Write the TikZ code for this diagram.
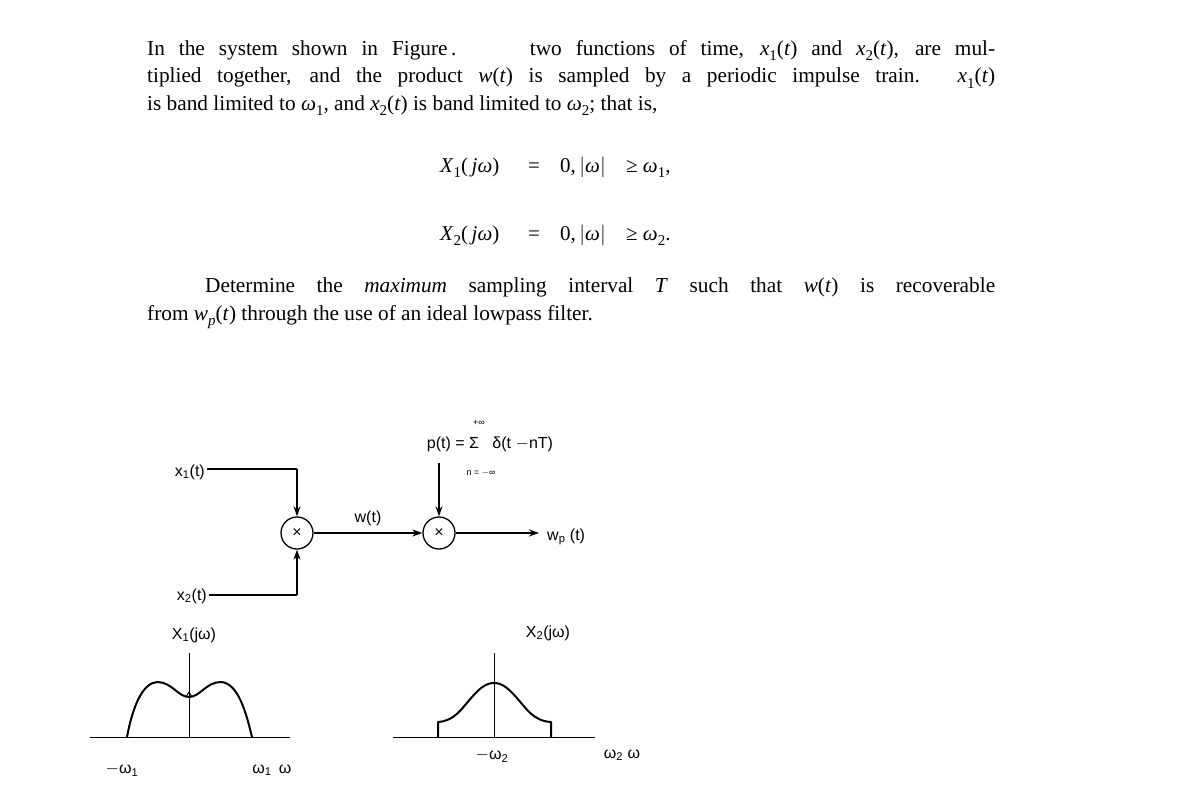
\documentclass[tikz,border=0pt]{standalone}
\usepackage{fontspec}
\setmainfont{Liberation Serif}
\newfontfamily\hel{Liberation Sans}
\usetikzlibrary{arrows.meta}
\newcommand{\iv}[1]{\textit{#1}}
\newcommand{\sbs}[1]{\raisebox{-0.25em}{\fontsize{15}{15}\selectfont #1}}
\begin{document}
\begin{tikzpicture}[x=1pt,y=-1pt,
  lbl/.style={font=\hel\fontsize{16}{18}\selectfont,inner sep=0},
  mult/.style={draw,circle,line width=1.3pt,minimum size=32pt,inner sep=0,font=\hel\fontsize{16}{16}\selectfont},
  wire/.style={line width=1.3pt},
  arr/.style={wire,-{Stealth[length=10pt,width=7pt]}},
  curve/.style={line width=2pt,line join=round},
  ax/.style={line width=0.6pt},
  eq/.style={font=\fontsize{21}{24}\selectfont,inner sep=0,anchor=base west},
  body/.style={anchor=north west,text width=848pt,align=justify,inner sep=0,font=\fontsize{21.3}{27.5}\selectfont}]
\useasboundingbox (0,0) rectangle (1184,800);
\node[body] (para) at (147,40)
{In the system shown in Figure\,.\hspace{1.9em} two functions of time, \iv{x}\sbs{1}(\iv{t}) and \iv{x}\sbs{2}(\iv{t}), are mul-\linebreak
tiplied together, and the product \iv{w}(\iv{t}) is sampled by a periodic impulse train. \iv{x}\sbs{1}(\iv{t})\linebreak
is band limited to \iv{ω}\sbs{1}, and \iv{x}\sbs{2}(\iv{t}) is band limited to \iv{ω}\sbs{2}; that is,};
\node[eq] (e1a) at (440,172) {\iv{X}\sbs{1}(\,\iv{jω})};
\node[eq] (e1b) at (528,172) {=};
\node[eq] (e1c) at (560,172) {0,\,$|$\iv{ω}$|$};
\node[eq] (e1d) at (626,172) {≥\ \iv{ω}\sbs{1},};
\node[eq] (e2a) at (440,240) {\iv{X}\sbs{2}(\,\iv{jω})};
\node[eq] (e2b) at (528,240) {=};
\node[eq] (e2c) at (560,240) {0,\,$|$\iv{ω}$|$};
\node[eq] (e2d) at (626,240) {≥\ \iv{ω}\sbs{2}.};
\node[body] (para2) at (147,278)
{\hspace*{58pt}Determine the \emph{maximum} sampling interval \iv{T} such that \iv{w}(\iv{t}) is recoverable\linebreak
from \iv{w}\sbs{\iv{p}}(\iv{t}) through the use of an ideal lowpass filter.};
% block diagram
\node[mult] (m1) at (297,533) {×};
\node[mult] (m2) at (439,533) {×};
\node[lbl,anchor=east] (x1) at (205,472) {x\textsubscript{1}(t)};
\node[lbl,anchor=east] (x2) at (207,596) {x\textsubscript{2}(t)};
\draw[wire] (x1.east) ++(2pt,3pt) coordinate (s1) -- (s1 -| m1.center) coordinate (k1);
\draw[arr] (k1) -- (m1.north);
\draw[wire] (x2.east) ++(2pt,1pt) coordinate (s2) -- (s2 -| m1.center) coordinate (k2);
\draw[arr] (k2) -- (m1.south);
\draw[arr] (m1) -- node[lbl,above=7pt] (wt) {w(t)} (m2);
\node[lbl,anchor=west] (wp) at (547,537) {w\textsubscript{p} (t)};
\coordinate (wpend) at (539,533);
\draw[arr] (m2) -- (wpend);
\node[lbl] (pt) at (490,444) {p(t) = Σ \ \ δ(t $-$nT)};
\node[lbl,font=\hel\fontsize{9}{9}\selectfont] (pinf) at (479,423) {+∞};
\node[lbl,font=\hel\fontsize{9}{9}\selectfont] (ninf) at (481,473) {n = $-$∞};
\coordinate (ptop) at (439,463);
\draw[arr] (ptop) -- (m2.north);
% X1 spectrum
\draw[ax] (90,737) -- (290,737);
\draw[ax] (189,653) -- (189,737);
\node[lbl] (X1) at (194,635) {X\textsubscript{1}(jω)};
\draw[curve] (127,737) .. controls (133,705) and (143,683) .. (157,682)
  .. controls (172,682) and (178,697) .. (189,697)
  .. controls (200,697) and (206,682) .. (221,682)
  .. controls (238,683) and (246,712) .. (252,737);
\draw[line width=1pt] (186,697) -- (189,692) -- (192,697);
\node[lbl] (mw1) at (122,770) {$-$ω\textsubscript{1}};
\node[lbl] (w1) at (262,770) {ω\textsubscript{1}};
\node[lbl] (w) at (285,769) {ω};
% X2 spectrum
\draw[ax] (393,737) -- (595,737);
\draw[ax] (494,653) -- (494,737);
\node[lbl] (X2) at (548,633) {X\textsubscript{2}(jω)};
\draw[curve] (438,737) -- (438,722) .. controls (455,721) and (462,708) .. (472,697)
  .. controls (480,688) and (486,683) .. (494,683)
  .. controls (502,683) and (508,688) .. (516,697)
  .. controls (526,708) and (533,721) .. (551,722) -- (551,737);
\node[lbl] (mw2) at (492,756) {$-$ω\textsubscript{2}};
\node[lbl] (w2w) at (622,755) {ω\textsubscript{2} ω};
\end{tikzpicture}
\end{document}
